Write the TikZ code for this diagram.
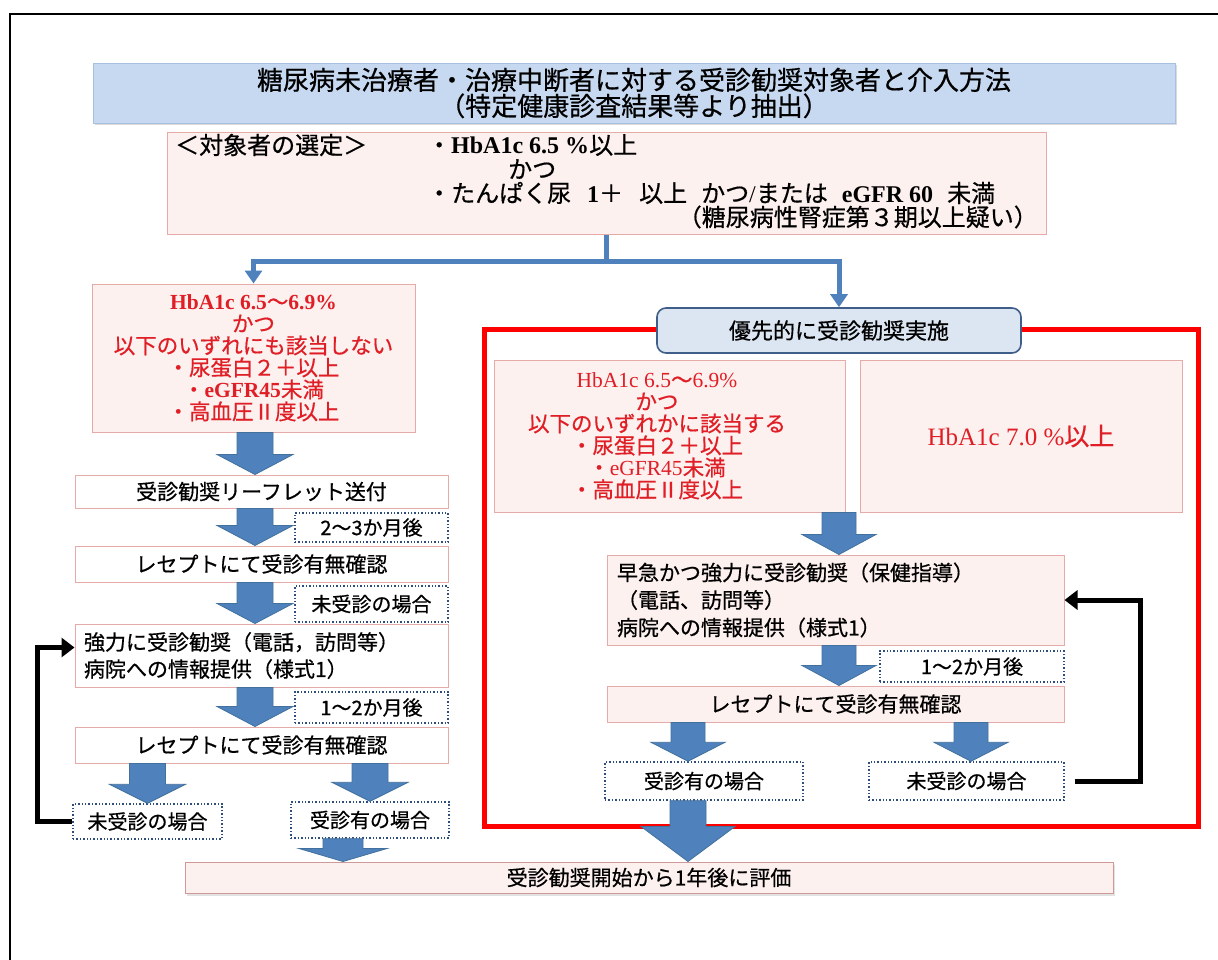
\documentclass[tikz,border=0pt]{standalone}
\usepackage{fontspec}
\setmainfont{Noto Sans CJK JP}[FakeBold=0.6]
\newfontfamily\ser{Liberation Serif}
\usetikzlibrary{arrows.meta,shadows,calc}
\definecolor{pinkfill}{HTML}{FDF1EF}
\definecolor{pinkline}{HTML}{E4ABA8}
\definecolor{redtxt}{HTML}{E01E26}
\definecolor{titlefill}{HTML}{C6D9F1}
\definecolor{titleline}{HTML}{A7C0E2}
\definecolor{priofill}{HTML}{DCE6F2}
\definecolor{prioline}{HTML}{3F5F8A}
\definecolor{arrowfill}{HTML}{4F81BD}
\definecolor{arrowline}{HTML}{41719C}
\definecolor{dotline}{HTML}{2F4D7A}
\newcommand{\fs}[2]{\fontsize{#1}{#2}\selectfont}
% block arrow: shaft half width, head half width, head length, from, to
\newcommand{\barrow}[5]{%
  \path[fill=arrowfill, draw=arrowline, line width=0.8pt] let \p1=#4, \p2=#5 in
  (\x1-#1pt,\y1) -- (\x1+#1pt,\y1) -- (\x1+#1pt,\y2+#3pt) -- (\x1+#2pt,\y2+#3pt)
  -- (\x1,\y2) -- (\x1-#2pt,\y2+#3pt) -- (\x1-#1pt,\y2+#3pt) -- cycle;}
\tikzset{
  pinkbox/.style={draw=pinkline, fill=pinkfill, line width=1pt, inner sep=0pt},
  whitebox/.style={draw=pinkline, fill=white, line width=1pt, inner sep=0pt},
  dotbox/.style={draw=dotline, dotted, line width=1.4pt, fill=white, inner sep=0pt, font=\fs{20}{22}},
  lbl/.style={font=\fs{21}{27}},
  redtext/.style={text=redtxt, align=center, font=\fs{21.5}{22}, inner sep=0pt},
  seltext/.style={font=\fs{24}{24}, inner sep=0pt},
  blueline/.style={draw=arrowfill, line width=5pt, -{Triangle[width=17pt,length=13pt]}},
  fb/.style={draw=black, line width=5pt, -{Triangle[width=19pt,length=13pt]}},
}
\begin{document}
\begin{tikzpicture}[x=1pt,y=-1pt]
\useasboundingbox (0,0) rectangle (1218,960);
\fill[white] (0,0) rectangle (1218,960);
\draw[line width=2pt] (10,962) -- (10,14) -- (1222,14);

% title
\node[fill=titlefill, draw=titleline, line width=0.8pt, minimum width=1082pt, minimum height=60pt,
      align=center, font=\fs{26}{26}, inner sep=0pt,
      drop shadow={shadow xshift=1.5pt, shadow yshift=-2.5pt, fill=gray!55}] (title) at (634,93)
  {糖尿病未治療者・治療中断者に対する受診勧奨対象者と介入方法\\（特定健康診査結果等より抽出）};

% selection
\node[pinkbox, minimum width=879pt, minimum height=102pt] (sel) at (606.5,184) {};
\node[seltext, anchor=west] (selh) at (175,145) {＜対象者の選定＞};
\node[seltext, anchor=west] (sel1) at (427,145) {・{\ser\bfseries HbA1c 6.5 \%}以上};
\node[seltext, anchor=west] (sel2) at (508,169) {かつ};
\node[seltext, anchor=west] (sel3) at (427,193)
  {・たんぱく尿\hspace{16pt}{\ser\bfseries 1}＋\hspace{16pt}以上\hspace{14pt}かつ{\ser /}または\hspace{14pt}{\ser\bfseries eGFR 60}\hspace{14pt}未満};
\node[seltext, anchor=east] (sel4) at (1038,217) {（糖尿病性腎症第３期以上疑い）};

% red frame and priority label
\node[draw=red, line width=5pt, minimum width=714pt, minimum height=497pt, inner sep=0pt] (rframe) at (841,577.5) {};
\node[fill=priofill, draw=prioline, line width=1.6pt, rounded corners=9pt, minimum width=364pt,
      minimum height=45pt, inner sep=0pt, font=\fs{22}{22}] (prio) at (839,330.5) {優先的に受診勧奨実施};

% left column
\node[pinkbox, minimum width=323pt, minimum height=148pt, redtext] (l1) at (253.5,358)
  {{\ser\bfseries HbA1c 6.5}～{\ser\bfseries 6.9\%}\\かつ\\以下のいずれにも該当しない\\・尿蛋白２＋以上\\・{\ser\bfseries eGFR45}未満\\・高血圧Ⅱ度以上};
\node[whitebox, minimum width=373pt, minimum height=33pt, lbl] (l2) at (261.5,491.5) {受診勧奨リーフレット送付};
\node[whitebox, minimum width=373pt, minimum height=36pt, lbl] (l3) at (261.5,564) {レセプトにて受診有無確認};
\node[whitebox, minimum height=63pt, text width=355pt, inner xsep=9pt, align=left, lbl] (l4) at (261.5,655.5)
  {強力に受診勧奨（電話，訪問等）\\病院への情報提供（様式1）};
\node[whitebox, minimum width=373pt, minimum height=36pt, lbl] (l5) at (261.5,745) {レセプトにて受診有無確認};

% blue split connector
\draw[blueline] (sel.south) -- ++(0,26) -| (l1.north);
\draw[blueline] (sel.south) -- ++(0,26) -| (prio.north);

% right column
\node[pinkbox, minimum width=351pt, minimum height=152pt] (r1) at (669.5,436) {};
\node[redtext] (r1t) at (657,436)
  {{\ser HbA1c 6.5}～{\ser 6.9\%}\\かつ\\以下のいずれかに該当する\\・尿蛋白２＋以上\\・{\ser eGFR45}未満\\・高血圧Ⅱ度以上};
\node[pinkbox, minimum width=322pt, minimum height=152pt, text=redtxt, font=\fs{25}{25}] (r2) at (1021,436)
  {{\ser HbA1c 7.0 \%}以上};
\node[pinkbox, minimum height=90pt, text width=437pt, inner xsep=10pt, align=left, font=\fs{21}{27.5}] (r3) at (835.5,600)
  {早急かつ強力に受診勧奨（保健指導）\\（電話、訪問等）\\病院への情報提供（様式1）};
\node[pinkbox, minimum width=457pt, minimum height=36pt, lbl] (r4) at (835.5,704) {レセプトにて受診有無確認};

% bottom
\node[pinkbox, draw=pinkline!90!black, minimum width=928pt, minimum height=31pt, lbl,
      drop shadow={shadow xshift=1.5pt, shadow yshift=-2.5pt, fill=gray!45}] (fin) at (649,877.5) {受診勧奨開始から1年後に評価};

% column reference coordinates
\coordinate (lc) at (255,0);
\coordinate (rc) at (839,0);
\coordinate (ryc) at (688,0);
\coordinate (rnc) at (971,0);
\coordinate (lyc) at (343,0);

% dotted boxes
\node[dotbox, minimum width=153pt, minimum height=29pt] (d1) at (371.5,527.5) {2～3か月後};
\node[dotbox, minimum width=153pt, minimum height=36pt] (d2) at (371.5,604) {未受診の場合};
\node[dotbox, minimum width=153pt, minimum height=31pt] (d3) at (371.5,707.5) {1～2か月後};
\node[dotbox, minimum width=149pt, minimum height=35pt] (lno) at (147.5,821.5) {未受診の場合};
\node[dotbox, minimum width=158pt, minimum height=36pt] (lyes) at (370,820) {受診有の場合};
\node[dotbox, minimum width=184pt, minimum height=31pt] (d4) at (972,666.5) {1～2か月後};
\node[dotbox, minimum width=198pt, minimum height=38pt] (ryes) at (704,781) {受診有の場合};
\node[dotbox, minimum width=195pt, minimum height=38pt] (rno) at (966.5,781) {未受診の場合};

% block arrows, left
\barrow{18}{38}{20}{(lc |- l1.south)}{(lc |- l2.north)}
\barrow{18}{38}{20}{(lc |- l2.south)}{(lc |- l3.north)}
\barrow{18}{38}{20}{(lc |- l3.south)}{(lc |- l4.north)}
\barrow{18}{38}{20}{(lc |- l4.south)}{(lc |- l5.north)}
\barrow{18}{38}{19}{(lno.north |- l5.south)}{(lno.north)}
\barrow{18}{38}{19}{(lyes.north |- l5.south)}{(lyes.north)}
\barrow{20}{44}{13}{(lyc |- lyes.south)}{(lyc |- fin.north)}

% block arrows, right
\barrow{17}{37}{20}{(rc |- r1.south)}{(rc |- r3.north)}
\barrow{17}{37}{20}{(rc |- r3.south)}{(rc |- r4.north)}
\barrow{17}{37}{19}{(ryc |- r4.south)}{(ryc |- ryes.north)}
\barrow{17}{37}{19}{(rnc |- r4.south)}{(rnc |- rno.north)}
\barrow{18}{47}{35}{(ryc |- ryes.south)}{(ryc |- fin.north)}

% feedback loops
\draw[fb] (lno.west) -- ++(-35,0) |- ([yshift=8pt]l4.west);
\draw[fb] ([xshift=10pt]rno.east) -- ++(66,0) |- (r3.east);
\end{tikzpicture}
\end{document}
